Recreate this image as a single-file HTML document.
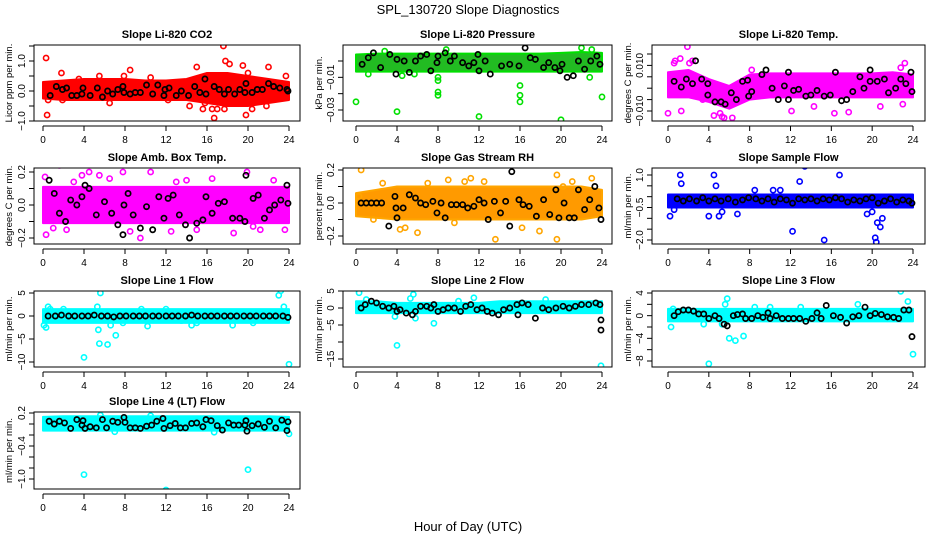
<!DOCTYPE html>
<html><head><meta charset="utf-8">
<style>
html,body{margin:0;padding:0;background:#fff;}
svg{display:block;font-family:"Liberation Sans",sans-serif;}
</style></head>
<body>
<svg id="c" width="936" height="540" viewBox="0 0 936 540">
<text x="468" y="14" text-anchor="middle" font-size="13">SPL_130720  Slope Diagnostics</text>
<text x="468" y="531" text-anchor="middle" font-size="13">Hour of Day (UTC)</text>
</svg>
<script>
const xTicks = [0,4,8,12,16,20,24];
const bandHours = [0,2,4,6,8,10,12,14,16,18,20,22,24];

const co2Lo = [-0.25,-0.3,-0.3,-0.3,-0.3,-0.3,-0.3,-0.3,-0.4,-0.5,-0.5,-0.4,-0.3];
const co2Hi = [0.3,0.35,0.4,0.4,0.4,0.35,0.35,0.4,0.6,0.6,0.5,0.4,0.3];
const co2Out = [[0.3,1.1],[0.4,-0.8],[1.8,0.6],[3.5,0.4],[5.5,0.5],[7.9,0.5],[8.5,0.7],[10.5,0.45],[15,0.8],[15.6,-0.6],[15.8,-0.4],[16.5,-0.6],[16.7,-0.9],[17,-0.6],[17.6,1.5],[17.8,1.0],[17.7,-0.6],[18.2,0.9],[19.5,0.85],[19.8,-0.8],[20.4,-0.6],[20,0.6],[21.8,-0.5],[22,0.8],[23.7,0.5],[14.3,-0.5],[0.5,-0.3],[1.9,-0.3],[6.5,-0.4],[12.2,-0.3]];
const co2Black = [[0.7,-0.15],[1.3,0.15],[1.9,0.05],[2.3,0.1],[2.8,-0.15],[3.3,-0.15],[3.8,-0.1],[3.9,0.1],[4.6,-0.15],[5.3,0.1],[5.8,-0.2],[6.3,0],[6.8,-0.1],[7.3,0.05],[7.8,0.15],[7.9,-0.05],[8.5,-0.1],[9,-0.05],[9.5,-0.05],[10.1,0.2],[10.7,-0.1],[11.2,0.2],[11.8,-0.15],[11.9,0.05],[12.3,0.1],[13,-0.15],[13.5,0],[14.2,-0.15],[14.8,0.15],[15.3,-0.05],[15.8,0.4],[15.9,-0.1],[16.7,0.15],[17.2,0.05],[17.7,-0.1],[18.1,0.05],[18.7,-0.1],[19.2,0.05],[19.7,-0.05],[19.8,0.25],[20.4,-0.05],[20.9,0.05],[21.4,0.05],[22,0.25],[22.5,0.15],[23.1,0.1],[23.8,0.05],[23.9,0]];

const presLo = [-0.0065,-0.0065,-0.0065,-0.0065,-0.0065,-0.0065,-0.0065,-0.0065,-0.0065,-0.0065,-0.0065,-0.0065,-0.0065];
const presHi = [0.004,0.0045,0.0045,0.0045,0.0045,0.0045,0.0045,0.0045,0.0045,0.0045,0.005,0.0055,0.005];
const presOut = [[0,-0.025],[4,-0.031],[4.5,-0.009],[8,-0.019],[8,-0.021],[8,-0.012],[8,-0.010],[12,-0.034],[16,-0.015],[16,-0.021],[16,-0.025],[20,-0.036],[24,-0.022],[22.8,-0.010],[8.8,0.007],[22,0.008],[23,0.007],[2.8,0.006],[1.2,-0.008],[5.7,-0.008]];
const presBlack = [[0.6,-0.002],[1.2,0.002],[1.7,0.005],[2.4,-0.004],[3.3,0.004],[3.9,-0.008],[4,0.001],[4.7,0],[5.2,-0.007],[5.8,0],[6.3,0.003],[6.9,0.004],[7.3,-0.006],[7.9,-0.001],[8,0.003],[8.7,0.005],[9.2,0],[9.6,0.003],[10.4,-0.001],[11,-0.003],[11.5,-0.001],[11.9,0.004],[12,-0.006],[12.6,0],[13.1,-0.008],[14.2,-0.003],[15,-0.002],[15.9,-0.003],[16.5,0.008],[17,0.002],[17.5,0.001],[18.3,-0.004],[18.8,-0.001],[19.4,-0.004],[19.9,-0.006],[20.1,-0.002],[20.6,-0.010],[21.2,-0.009],[21.7,0],[22.3,-0.005],[22.9,0],[23.5,0.003],[23.8,-0.002]];

const tempLo = [-0.004,-0.004,-0.006,-0.009,-0.005,-0.004,-0.004,-0.004,-0.004,-0.004,-0.004,-0.004,-0.004];
const tempHi = [0.007,0.008,0.004,0.001,0.006,0.0065,0.0065,0.0065,0.0065,0.0065,0.0065,0.007,0.006];
const tempOut = [[1.9,0.0182],[0.6,0.011],[0.7,0.012],[2.1,0.011],[2.4,0.012],[0,-0.011],[1.3,-0.010],[4.5,-0.012],[5.3,-0.0125],[5.5,-0.013],[6.3,-0.013],[5.1,-0.011],[12.1,-0.010],[14.3,-0.008],[16.3,-0.011],[17.7,-0.0105],[23,-0.007],[22.8,0.009],[23.2,0.011],[20.8,-0.008],[8.2,0.008],[1.2,0.013],[3.4,-0.005]];
const tempBlack = [[0.6,0.003],[1.3,0.0005],[1.8,0.004],[2.4,0.002],[2.7,0.012],[3.3,0.004],[3.9,-0.003],[3.9,0.002],[4.6,-0.006],[5.2,-0.006],[5.6,-0.007],[6.2,-0.002],[6.7,-0.005],[7.3,0.003],[7.9,-0.0035],[7.8,0.0035],[8.2,-0.0015],[9.2,0.006],[9.6,0.008],[10.2,0],[10.8,-0.005],[11.4,0.001],[11.8,0.007],[11.8,-0.005],[12.3,-0.001],[12.8,-0.0005],[13.5,-0.0035],[14,-0.003],[14.6,-0.001],[15.3,-0.0035],[15.9,-0.003],[16.4,0.007],[17,-0.0055],[17.5,-0.005],[18.1,-0.0015],[18.8,0.005],[19.2,0],[19.8,0.008],[19.8,0.003],[20.5,0.003],[21.2,0.004],[21.6,-0.002],[22.3,0],[22.8,0.004],[23.3,0.002],[23.8,0.007],[23.9,-0.0015]];

const ambLo = [-0.11,-0.11,-0.11,-0.11,-0.11,-0.11,-0.11,-0.11,-0.11,-0.11,-0.11,-0.11,-0.11];
const ambHi = [0.11,0.11,0.11,0.11,0.11,0.11,0.11,0.11,0.11,0.11,0.11,0.11,0.11];
const ambOut = [[0.3,-0.18],[0.2,0.17],[1.6,0.24],[3.8,0.18],[4.5,0.2],[7.8,0.2],[9.5,-0.2],[10.5,0.2],[11.5,0.25],[14,0.15],[17,-0.26],[19.9,0.2],[22.3,0.27],[22.5,0.15],[23.6,-0.15],[2.3,-0.15],[15,-0.15],[18.6,-0.17],[21.2,-0.15],[5.5,0.18],[12.5,-0.16],[8.5,-0.16],[6.5,0.16],[16.5,0.16],[1,-0.14],[3,0.14],[13,0.14],[20.5,-0.13]];
const ambBlack = [[0.6,0.15],[1.1,0.07],[1.6,-0.05],[2.2,-0.1],[2.7,0.03],[3.3,0],[3.8,0.05],[4.1,0.12],[4.5,0.1],[5.2,-0.06],[6,0.02],[6.7,-0.05],[7.3,-0.12],[7.8,-0.18],[7.9,0],[8.3,0.07],[8.8,-0.06],[9.5,-0.14],[10.1,-0.01],[10.7,-0.15],[11.3,0.05],[11.8,-0.08],[12.2,0.04],[12.7,0.06],[13.3,-0.06],[13.9,-0.12],[14.3,-0.2],[15,-0.11],[15.6,-0.09],[15.9,0.05],[16.5,-0.05],[17.1,0.01],[17.7,0.02],[18.5,-0.08],[19.2,-0.08],[19.7,-0.1],[19.8,0.18],[19.9,-0.27],[20.5,0.04],[21,0.06],[21.6,-0.08],[22.1,-0.03],[22.6,0],[23.2,0.03],[23.8,0.12],[23.9,0.01]];

const rhLo = [-0.08,-0.09,-0.1,-0.1,-0.1,-0.1,-0.1,-0.1,-0.1,-0.1,-0.1,-0.1,-0.08];
const rhHi = [0.06,0.08,0.1,0.1,0.1,0.1,0.1,0.1,0.1,0.1,0.1,0.1,0.08];
const rhOut = [[0.5,0.2],[0.3,0.04],[1.7,-0.1],[2.6,0.12],[4.3,-0.16],[4.8,-0.15],[6,-0.18],[9,0.14],[9.6,-0.12],[10.6,0.13],[11.2,0.15],[13.6,-0.22],[16.2,-0.15],[17.9,-0.17],[19.6,0.17],[19.6,-0.22],[20.2,0.1],[21.1,0.13],[23,0.15],[12.5,0.13],[7,0.12]];
const rhBlack = [[0.5,0],[1,0],[1.5,0],[2,0],[2.5,0],[3.2,-0.14],[3.8,0.04],[3.9,-0.03],[4,-0.09],[4.6,-0.03],[5.2,0.05],[5.8,0.03],[6.3,0],[6.8,-0.01],[7.5,0.01],[7.9,-0.06],[8.3,0],[8.7,-0.09],[9.3,-0.01],[9.8,-0.01],[10.4,-0.01],[10.9,-0.03],[11.5,-0.02],[12,0.02],[12.5,0],[12.9,-0.1],[13.5,0.01],[14.1,-0.06],[14.6,0.01],[15,-0.14],[15.2,0.19],[15.9,0.02],[16.3,-0.01],[16.9,-0.02],[17.6,-0.08],[18.3,0.02],[18.9,-0.07],[19.5,0.08],[19.8,-0.09],[20.3,0],[20.8,-0.09],[21.3,-0.09],[21.7,0.08],[22.3,-0.04],[22.8,0.02],[23.3,0.1],[23.7,-0.03],[23.9,-0.1]];

const sfLo = [-0.5,-0.5,-0.5,-0.5,-0.5,-0.5,-0.5,-0.5,-0.5,-0.5,-0.5,-0.5,-0.5];
const sfHi = [0.1,0.1,0.1,0.1,0.1,0.1,0.1,0.1,0.1,0.1,0.1,0.1,0.1];
const sfOut = [[0.2,-0.9],[1.2,1.0],[1.3,0.6],[4.5,1.0],[4.7,0.5],[4,-0.9],[5,-0.9],[5.3,-0.7],[6.8,-0.8],[10.3,0.3],[12.2,-1.6],[12.9,0.7],[13.4,1.4],[15.3,-2.0],[16.8,1.0],[20.3,-1.9],[20.4,-2.1],[20.5,-1.2],[20.8,-1.4],[21,-1.0],[19.5,-0.8],[20,-0.7],[8.5,0.3],[11,0.3],[0.6,-0.6]];
const sfBlack = [[0.9,-0.1],[1.5,-0.2],[2.1,-0.1],[2.8,-0.2],[3.4,-0.05],[4,-0.2],[4.6,-0.1],[5.2,-0.2],[5.9,-0.1],[6.6,-0.25],[7.3,-0.15],[7.9,-0.05],[8.6,-0.1],[9.2,-0.2],[9.8,-0.1],[10.4,-0.25],[11,-0.1],[11.6,-0.15],[12.2,-0.3],[12.8,-0.1],[13.4,-0.15],[14,-0.1],[14.6,-0.2],[15.2,-0.1],[15.8,-0.15],[16.4,-0.05],[17,-0.1],[17.6,-0.25],[18.2,-0.15],[18.8,-0.2],[19.4,-0.1],[20,-0.05],[20.6,-0.3],[21.2,-0.2],[21.8,-0.1],[22.4,-0.25],[23,-0.15],[23.6,-0.2],[23.9,-0.3]];

const l1Lo = [-1.5,-1.5,-1.5,-1.5,-1.5,-1.5,-1.5,-1.5,-1.5,-1.5,-1.5,-1.5,-1.5];
const l1Hi = [1.5,1.5,1.5,1.5,1.5,1.5,1.5,1.5,1.5,1.5,1.5,1.5,1.5];
const l1Out = [[0.1,-2],[0.3,-2.5],[0.5,2],[0.7,1.5],[4,-9],[5.3,2],[5.6,5],[5.5,-6],[6.3,-6.2],[6.6,-2],[7.1,-4.2],[7.8,-1.5],[9.6,1.5],[10.2,-2.2],[12,1.5],[13.5,-1],[14.5,-2],[15,-1.5],[18.5,-2],[20.5,-1.5],[23,4.5],[23.2,5.5],[23.5,2],[24,-10.5],[2,1.5],[5.4,-3]];
const l1Black = [[0.5,0],[1.2,0],[1.8,0.2],[2.5,0],[3.1,0],[3.8,0],[4.4,0],[5,0.2],[5.7,0],[6.3,0],[6.9,-0.2],[7.5,0],[8.1,0],[8.8,0],[9.4,0],[10,0],[10.7,0],[11.3,0],[12,0],[12.6,0],[13.2,0],[13.9,0],[14.5,0.2],[15.1,0],[15.8,0],[16.4,0],[17,0],[17.7,0],[18.3,0],[18.9,0],[19.6,0],[20.2,0],[20.8,0],[21.5,0],[22.1,0],[22.7,0],[23.4,0],[23.9,-0.3]];

const l2Lo = [-1.5,-1.5,-1.5,-1.5,-1.5,-1.5,-1.5,-1.5,-1.5,-1.5,-1.5,-1.5,-1.5];
const l2Hi = [2,2,1.5,1.5,1.5,1.5,1.5,2,2,2,2,2,2];
const l2Out = [[0.3,4.5],[4,-11],[5.6,4],[5.8,-3],[7.6,-4.5],[3.8,-2.5],[23.9,-17],[10,2],[1,2.5],[5.3,2.8],[11.5,3],[18.5,2.5]];
const l2Black = [[0.5,0],[0.9,1],[1.5,2],[2,1.5],[2.6,0.5],[3.2,0],[3.7,0.5],[4,-1],[4.3,-0.5],[4.9,-1.5],[5.5,-2],[5.8,-1],[6.3,0.5],[6.9,0.5],[7.3,0],[7.6,1],[8,-1],[8.5,-0.5],[9,0],[9.6,0],[10.2,-1],[10.7,0.5],[11.2,1],[11.8,-0.5],[12.3,0],[12.8,-1],[13.3,-1.5],[13.9,-2],[14.4,-0.5],[15,0],[15.7,1],[15.8,-2],[16.2,1.5],[16.8,1],[17.5,-3],[18.2,0],[18.8,-0.5],[19.5,0],[20.2,0.5],[20.8,0],[21.4,0.5],[22,1],[22.7,1],[23.4,1.5],[23.8,1],[23.9,-3.5],[23.9,-6.5]];

const l3Lo = [-1,-1,-1,-1,-1,-1,-1,-1,-1,-1,-1,-1,-1];
const l3Hi = [1.2,1.2,1.2,1.2,1.2,1.2,1.2,1.2,1.2,1.2,1.2,1.2,1.2];
const l3Out = [[0.3,-2],[0.5,1.2],[4,-8.5],[5.6,2],[5.8,3],[6,-4],[6.6,-4.4],[7.4,-3.6],[5.3,-1.5],[10,1.5],[18.6,2],[22.8,4.3],[23.5,2.5],[24,-6.8],[13,1.5],[8.5,1.5],[3.5,-1.5]];
const l3Black = [[0.6,0],[1,0.7],[1.5,1],[2,1],[2.5,0.8],[3,0.3],[3.5,0.3],[4,-0.5],[4.6,0],[5,-0.5],[5.5,-1.5],[5.8,-1.8],[6.4,0],[6.8,0.2],[7.3,0.3],[7.6,-0.5],[8.2,-0.5],[8.8,0],[9.3,-0.3],[9.8,0.5],[10,-0.5],[10.6,0],[11.2,-0.5],[11.8,-0.5],[12.3,-0.5],[12.9,-0.5],[13.5,-1],[14.1,-0.5],[14.6,0.5],[15,-0.5],[15.5,1.8],[16.2,0],[16.9,-0.3],[17.5,-1.3],[18.1,-0.2],[18.7,0],[19.3,1.5],[19.8,0],[20.3,0.4],[20.9,0.2],[21.5,-0.2],[22.1,-0.3],[22.6,-0.5],[23.1,1],[23.6,1],[23.9,-3.7]];

const l4Lo = [-0.12,-0.12,-0.12,-0.12,-0.12,-0.12,-0.12,-0.12,-0.12,-0.12,-0.12,-0.12,-0.12];
const l4Hi = [0.13,0.14,0.14,0.14,0.14,0.14,0.14,0.14,0.14,0.14,0.14,0.14,0.13];
const l4Out = [[4,-0.92],[12,-1.2],[20,-0.83],[24,-0.18],[10.5,0.15],[5.6,0.16],[16.7,-0.15],[7,-0.14]];
const l4Black = [[0.6,0.05],[1.1,0],[1.6,0.05],[2.1,0.02],[2.7,-0.08],[3.3,0.08],[3.8,-0.02],[3.9,0.06],[4.1,-0.08],[4.6,-0.05],[5.2,-0.07],[5.8,0.08],[6.2,-0.07],[6.8,0.05],[7.3,0.03],[7.9,0.12],[8,0.03],[8.5,-0.07],[9,-0.07],[9.5,-0.08],[10.1,-0.04],[10.6,-0.02],[11.1,0.05],[11.7,0.1],[11.8,-0.08],[12.4,-0.03],[12.9,0.01],[13.4,-0.07],[13.9,-0.07],[14.5,0.01],[15,0.02],[15.6,-0.05],[15.9,0.08],[16.4,0.06],[17,-0.03],[17.5,-0.11],[18.1,0.02],[18.6,-0.02],[19.1,-0.02],[19.7,-0.02],[19.8,0.06],[19.9,-0.13],[20.4,-0.03],[21,0],[21.6,-0.06],[22.1,0.05],[22.7,-0.07],[23.3,0.07],[23.8,-0.12],[23.9,0.04]];

const co2Ticks=[-1,-0.5,0,0.5,1,1.5], co2Labels=["-1.0","","0.0","","1.0",""];
const presTicks=[0,-0.01,-0.02,-0.03], presLabels=["","-0.01","","-0.03"];
const tempTicks=[0.015,0.01,0.005,0,-0.005,-0.01], tempLabels=["","0.010","","","","-0.010"];
const ambTicks=[0.2,0.1,0,-0.1,-0.2], ambLabels=["0.2","","0.0","","-0.2"];
const rhTicks=[0.2,0.1,0,-0.1,-0.2], rhLabels=["0.2","","0.0","","-0.2"];
const sfTicks=[1,0.5,0,-0.5,-1,-1.5,-2], sfLabels=["1.0","","","-0.5","","","-2.0"];
const l1Ticks=[5,0,-5,-10], l1Labels=["5","0","-5","-10"];
const l2Ticks=[5,0,-5,-10,-15], l2Labels=["5","0","-5","","-15"];
const l3Ticks=[4,2,0,-2,-4,-6,-8], l3Labels=["4","","0","","-4","","-8"];
const l4Ticks=[0.2,0,-0.2,-0.4,-0.6,-0.8,-1.0], l4Labels=["0.2","","","-0.4","","","-1.0"];

const NS="http://www.w3.org/2000/svg";
const svg=document.getElementById('c');
const cols=[{L:34,R:300,x0:43,x24:289,yl:12},{L:343,R:612,x0:356,x24:602,yl:322},{L:652,R:925,x0:668,x24:913,yl:631}];
const rows=[{T:45,B:121},{T:168,B:244},{T:291,B:367},{T:412,B:489}];
const panels=[
 {t:"Slope Li-820 CO2",c:0,r:0,yl:"Licor ppm per min.",a:[0,91],b:[1,61],lo:co2Lo,hi:co2Hi,out:co2Out,blk:co2Black,col:"#ff0000",band:"#ff0000",tk:co2Ticks,tl:co2Labels},
 {t:"Slope Li-820 Pressure",c:1,r:0,yl:"kPa per min.",a:[0,61],b:[-0.03,110],lo:presLo,hi:presHi,out:presOut,blk:presBlack,col:"#00e000",band:"#22bb22",tk:presTicks,tl:presLabels},
 {t:"Slope Li-820 Temp.",c:2,r:0,yl:"degrees C per min.",a:[0.015,54],b:[-0.01,111],lo:tempLo,hi:tempHi,out:tempOut,blk:tempBlack,col:"#ff00ff",band:"#ff00ff",tk:tempTicks,tl:tempLabels},
 {t:"Slope Amb. Box Temp.",c:0,r:1,yl:"degrees C per min.",a:[0.2,172],b:[-0.2,238],lo:ambLo,hi:ambHi,out:ambOut,blk:ambBlack,col:"#ff00ff",band:"#ff00ff",tk:ambTicks,tl:ambLabels},
 {t:"Slope Gas Stream RH",c:1,r:1,yl:"percent per min.",a:[0.2,170],b:[-0.2,236],lo:rhLo,hi:rhHi,out:rhOut,blk:rhBlack,col:"#ffa500",band:"#ff9a00",tk:rhTicks,tl:rhLabels},
 {t:"Slope Sample Flow",c:2,r:1,yl:"ml/min per min.",a:[1,175],b:[-2,240],lo:sfLo,hi:sfHi,out:sfOut,blk:sfBlack,col:"#0000ff",band:"#0000ff",tk:sfTicks,tl:sfLabels},
 {t:"Slope Line 1 Flow",c:0,r:2,yl:"ml/min per min.",a:[5,293],b:[-10,362],lo:l1Lo,hi:l1Hi,out:l1Out,blk:l1Black,col:"#00ffff",band:"#00ffff",tk:l1Ticks,tl:l1Labels},
 {t:"Slope Line 2 Flow",c:1,r:2,yl:"ml/min per min.",a:[5,291],b:[-15,359],lo:l2Lo,hi:l2Hi,out:l2Out,blk:l2Black,col:"#00ffff",band:"#00ffff",tk:l2Ticks,tl:l2Labels},
 {t:"Slope Line 3 Flow",c:2,r:2,yl:"ml/min per min.",a:[4,293],b:[-8,361],lo:l3Lo,hi:l3Hi,out:l3Out,blk:l3Black,col:"#00ffff",band:"#00ffff",tk:l3Ticks,tl:l3Labels},
 {t:"Slope Line 4 (LT) Flow",c:0,r:3,yl:"ml/min per min.",a:[0.2,413],b:[-1,479],lo:l4Lo,hi:l4Hi,out:l4Out,blk:l4Black,col:"#00ffff",band:"#00ffff",tk:l4Ticks,tl:l4Labels}
];
function mk(tag,at,parent){const e=document.createElementNS(NS,tag);for(const k in at)e.setAttribute(k,at[k]);(parent||svg).appendChild(e);return e;}
panels.forEach((p,pi)=>{
 const C=cols[p.c],R=rows[p.r];
 const g=mk('g',{});
 
 
 const xs=h=>C.x0+(C.x24-C.x0)*h/24;
 const ys=v=>p.a[1]+(v-p.a[0])*(p.b[1]-p.a[1])/(p.b[0]-p.a[0]);
 const clip=mk('clipPath',{id:'cl'+pi},g);
 mk('rect',{x:C.L,y:R.T,width:C.R-C.L,height:R.B-R.T},clip);
 const dg=mk('g',{'clip-path':'url(#cl'+pi+')'},g);
 let pts=[];
 bandHours.forEach((h,i)=>pts.push(xs(h)+','+ys(p.hi[i])));
 for(let i=bandHours.length-1;i>=0;i--)pts.push(xs(bandHours[i])+','+ys(p.lo[i]));
 const band=mk('polygon',{points:pts.join(' '),fill:p.band,stroke:p.col,'stroke-width':2,'stroke-linejoin':'round'},dg);
 
 
 p.out.forEach(d=>{
  const c=mk('circle',{cx:xs(d[0]),cy:ys(d[1]),r:2.6,fill:'none',stroke:p.col,'stroke-width':1.6},dg);
  
  
 });
 p.blk.forEach(d=>{
  const c=mk('circle',{cx:xs(d[0]),cy:ys(d[1]),r:2.6,fill:'none',stroke:'#000','stroke-width':1.7},dg);
  
  
 });
 const box=mk('rect',{x:C.L,y:R.T,width:C.R-C.L,height:R.B-R.T,fill:'none',stroke:'#000','stroke-width':1},g);
 
 
 const tt=mk('text',{x:(C.L+C.R)/2,y:R.T-7,'text-anchor':'middle','font-size':11,'font-weight':'bold'},g);
 tt.textContent=p.t;
 
 
 mk('line',{x1:xs(0),x2:xs(24),y1:R.B+5,y2:R.B+5,stroke:'#000'},g);
 xTicks.forEach(h=>{
  mk('line',{x1:xs(h),x2:xs(h),y1:R.B+5,y2:R.B+10,stroke:'#000'},g);
  const t=mk('text',{x:xs(h),y:R.B+22,'text-anchor':'middle','font-size':10},g);
  t.textContent=h;
  
  
 });
 const yt0=ys(p.tk[0]),yt1=ys(p.tk[p.tk.length-1]);
 mk('line',{x1:C.L,x2:C.L,y1:Math.min(yt0,yt1),y2:Math.max(yt0,yt1),stroke:'#000'},g);
 p.tk.forEach((v,i)=>{
  const y=ys(v);
  mk('line',{x1:C.L-5,x2:C.L,y1:y,y2:y,stroke:'#000'},g);
  if(p.tl[i]){
   const t=mk('text',{x:C.L-9,y:y,'text-anchor':'middle','font-size':10,transform:'rotate(-90 '+(C.L-9)+' '+y+')'},g);
   t.textContent=p.tl[i].replace('-','\u2212');
   
   
  }
 });
 const cy=(R.T+R.B)/2;
 const yl=mk('text',{x:C.yl,y:cy,'text-anchor':'middle','font-size':9.5,transform:'rotate(-90 '+C.yl+' '+cy+')'},g);
 yl.textContent=p.yl;
 
 
});
</script>
</body></html>
